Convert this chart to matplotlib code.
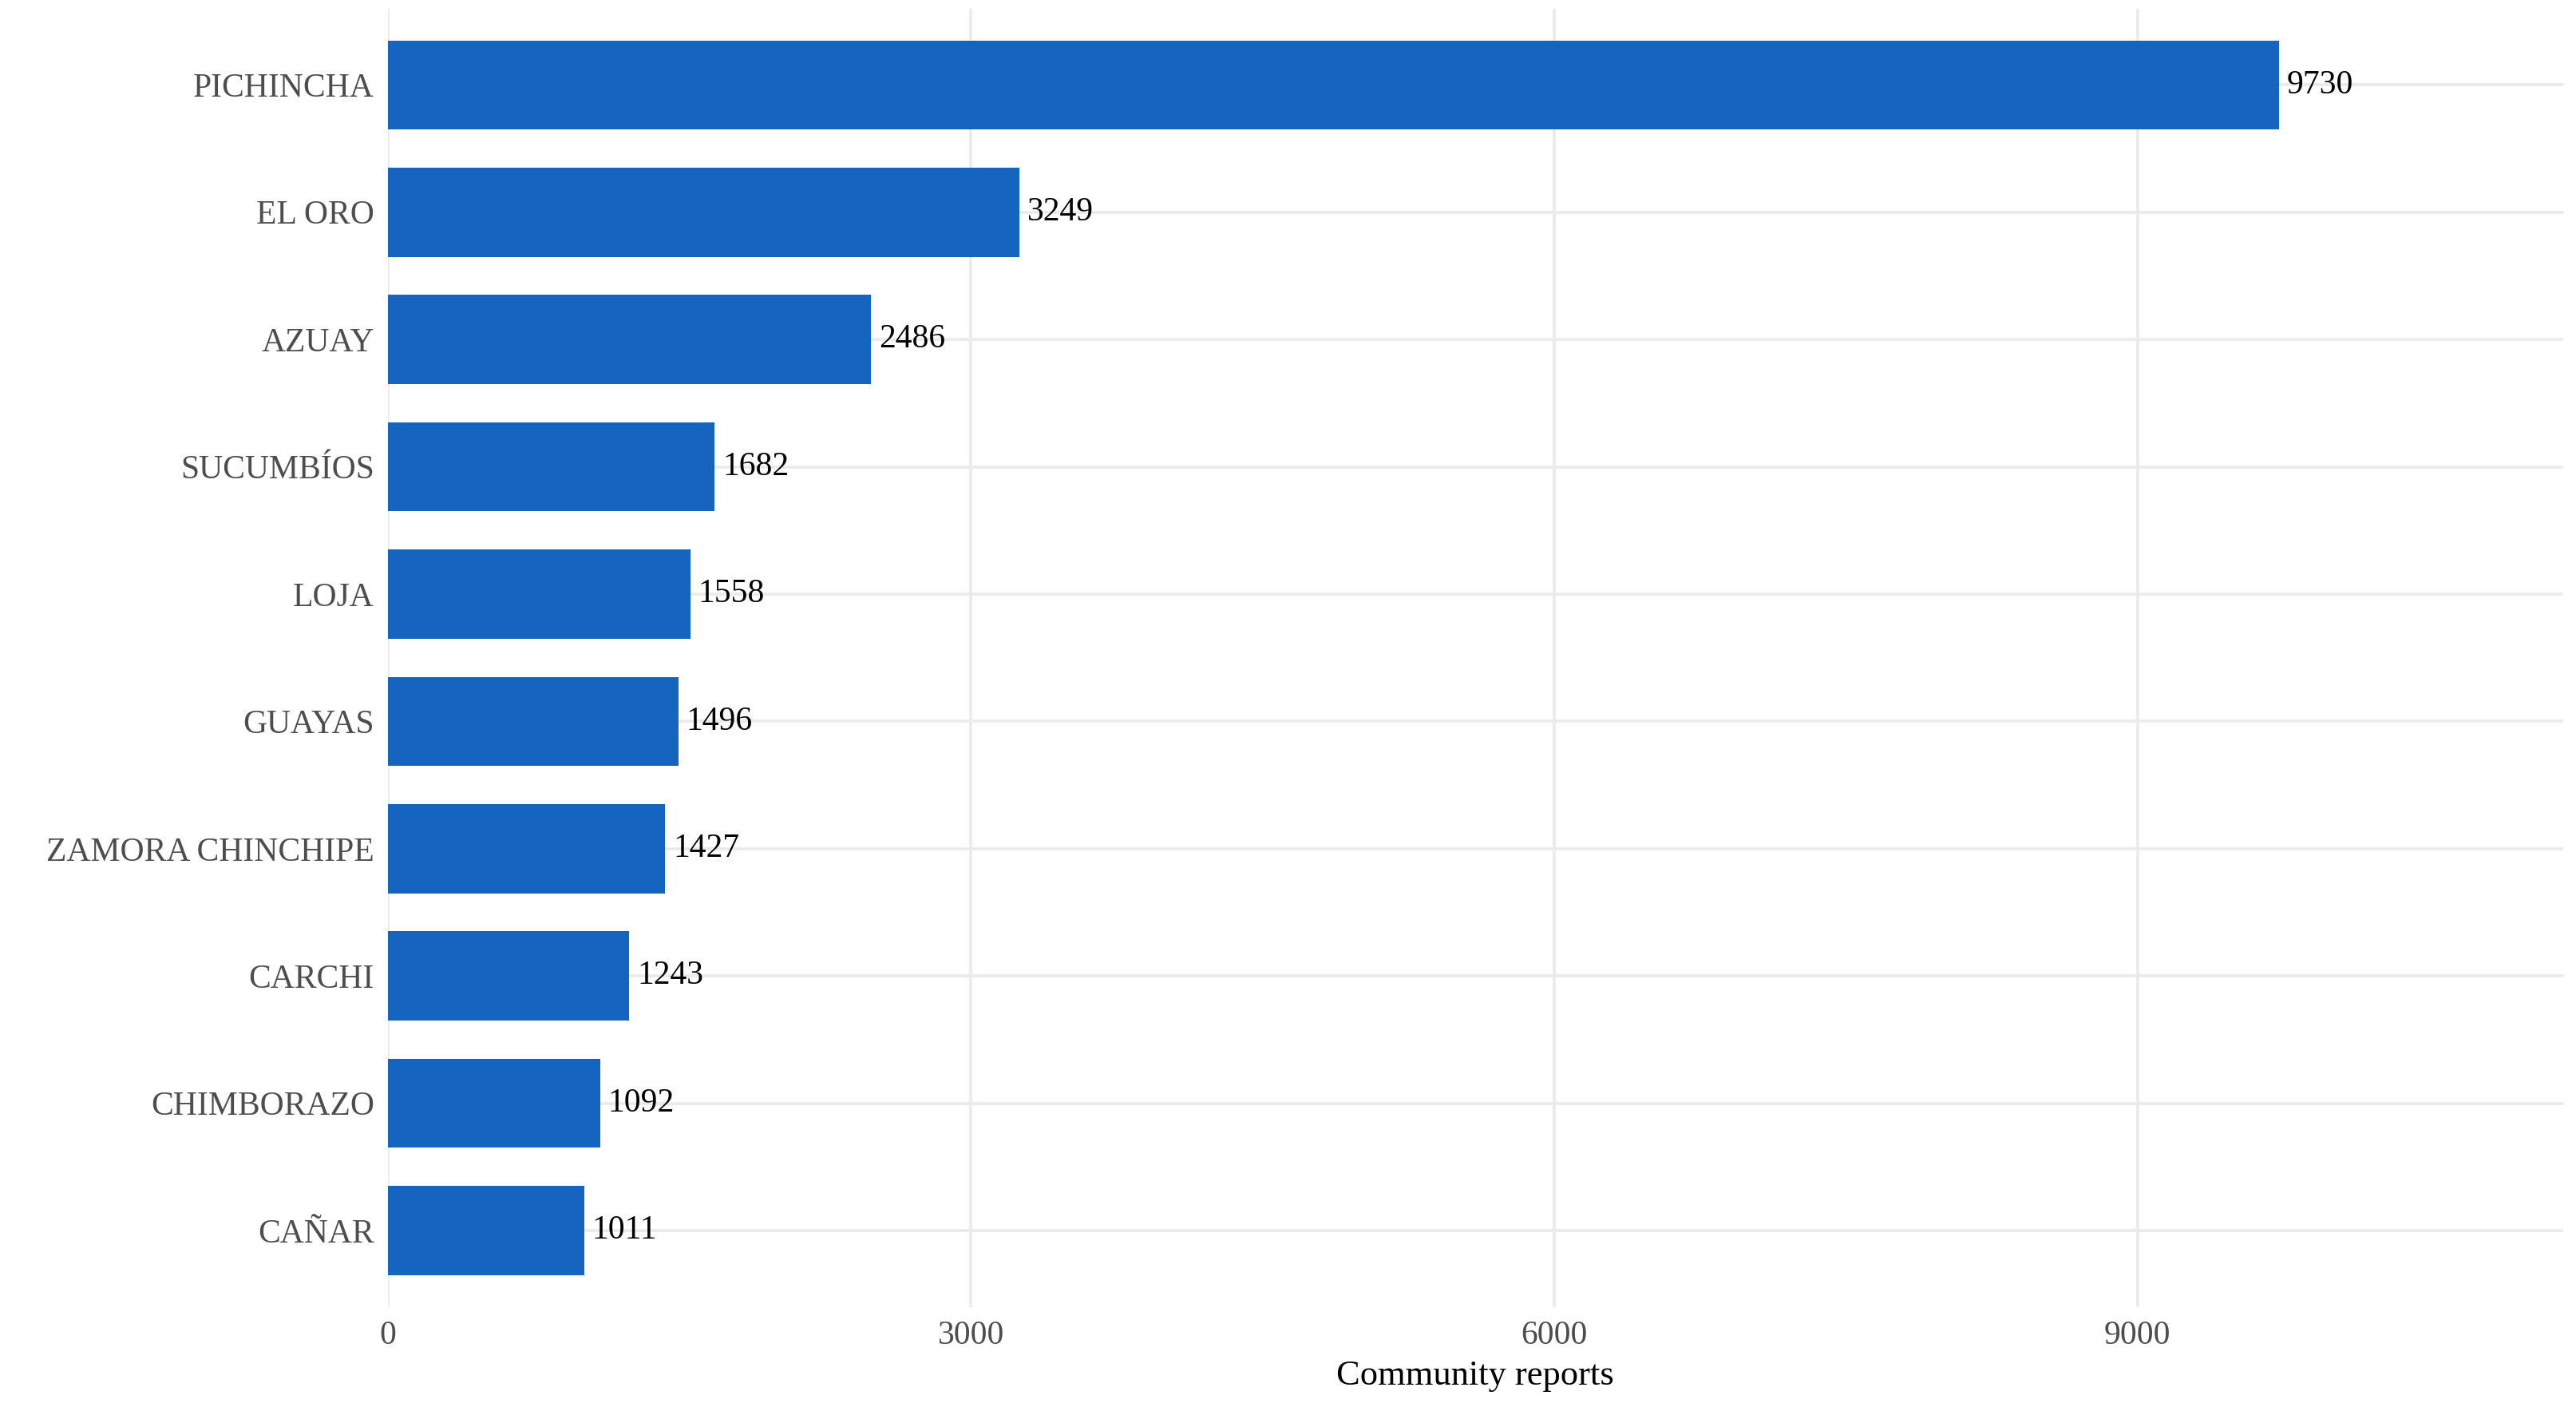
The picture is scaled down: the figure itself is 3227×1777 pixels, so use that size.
import matplotlib
matplotlib.use('Agg')
import matplotlib.pyplot as plt

provinces = ["PICHINCHA", "EL ORO", "AZUAY", "SUCUMBÍOS", "LOJA", "GUAYAS",
             "ZAMORA CHINCHIPE", "CARCHI", "CHIMBORAZO", "CAÑAR"]
reports = [9730, 3249, 2486, 1682, 1558, 1496, 1427, 1243, 1092, 1011]
xticks = [0, 3000, 6000, 9000]

plt.rcParams['font.family'] = ['Liberation Serif', 'DejaVu Serif']

fig = plt.figure(figsize=(16.135, 8.885), dpi=200)
ax = fig.add_axes([0.1505, 0.079, 0.8445, 0.915])

n = len(provinces)
ypos = list(range(n, 0, -1))
ax.barh(ypos, reports, height=0.7, color='#1565C0', zorder=3)
for y, v in zip(ypos, reports):
    ax.text(v + 40, y, str(v), va='center', ha='left', fontsize=15, color='black', zorder=4)

ax.set_ylim(0.4, n + 0.6)
ax.set_xlim(0, 11190)
ax.set_yticks(ypos)
ax.set_yticklabels(provinces)
ax.set_xticks(xticks)
ax.set_xticklabels([str(t) for t in xticks])
ax.tick_params(axis='both', length=0, labelsize=15, labelcolor='#4D4D4D', pad=6)
ax.grid(True, color='#EBEBEB', linewidth=1.4, zorder=0)
for s in ax.spines.values():
    s.set_visible(False)
ax.set_xlabel("Community reports", fontsize=16, color='black', labelpad=4)

fig.savefig('out.png', dpi=200)
